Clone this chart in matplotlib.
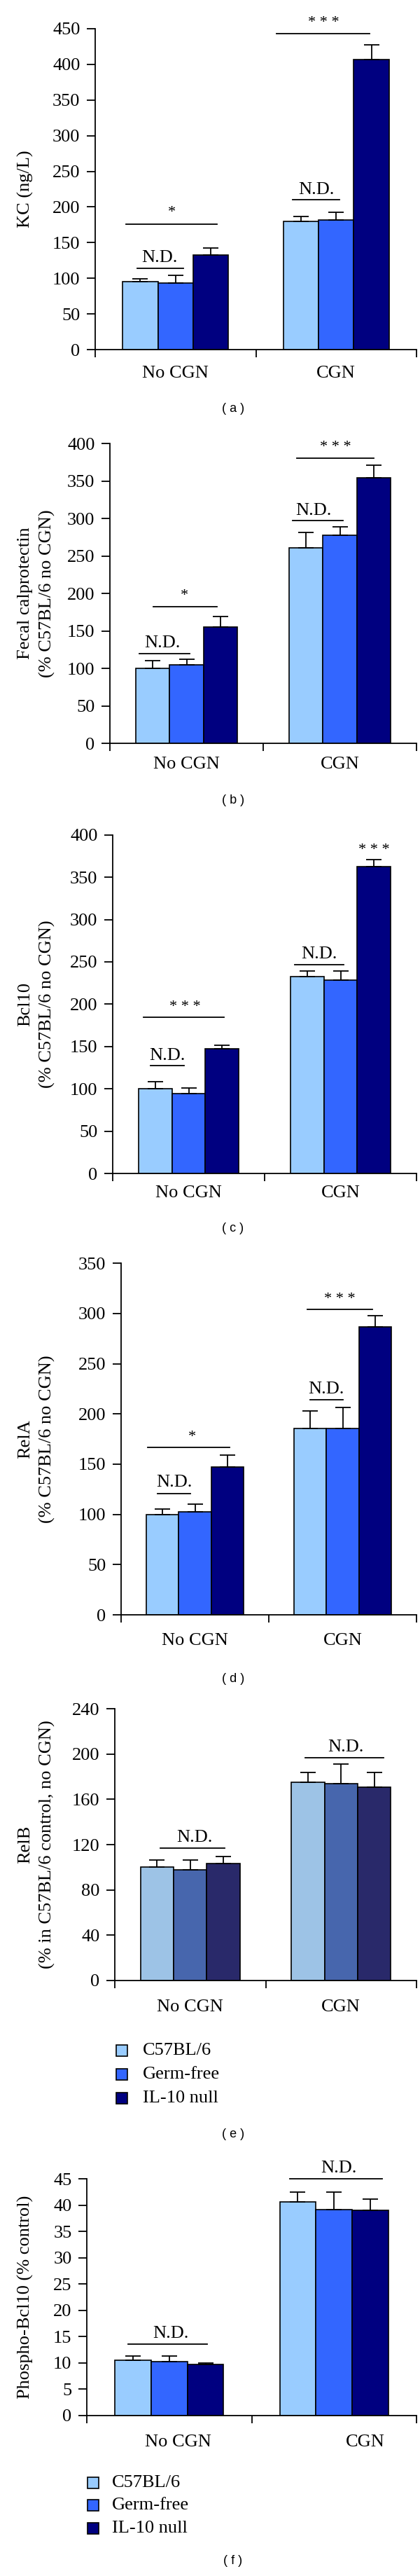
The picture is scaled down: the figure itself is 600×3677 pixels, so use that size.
import matplotlib
matplotlib.use("Agg")
import matplotlib.pyplot as plt
from matplotlib.patches import Rectangle

plt.rcParams['font.family'] = ['Liberation Serif', 'DejaVu Serif']

# ---------------- data ----------------
groups = ["No CGN", "CGN"]
strains = ["C57BL/6", "Germ-free", "IL-10 null"]

kc_mean = [[95.6, 93.7, 132.5], [179.9, 181.9, 406.5]]
kc_err = [[3.5, 10.4, 10.5], [7.0, 10.5, 20.2]]

calpro_mean = [[100.0, 104.7, 155.0], [261.2, 277.5, 354.1]]
calpro_err = [[10.3, 7.8, 14.1], [20.0, 11.9, 17.4]]

bcl10_mean = [[100.0, 94.4, 147.2], [232.8, 228.5, 362.3]]
bcl10_err = [[8.5, 6.3, 4.3], [6.5, 10.8, 8.8]]

rela_mean = [[100.0, 102.9, 147.5], [185.9, 185.9, 286.6]]
rela_err = [[5.6, 7.6, 11.4], [17.2, 20.8, 11.4]]

relb_mean = [[100.2, 97.6, 103.3], [175.3, 173.8, 170.9]]
relb_err = [[6.0, 8.6, 6.0], [8.6, 17.2, 13.0]]

pbcl10_mean = [[10.5, 10.2, 9.7], [40.6, 39.2, 39.0]]
pbcl10_err = [[0.8, 1.1, 0.25], [1.9, 3.3, 2.1]]

ylabels = ["KC (ng/L)",
           "Fecal calprotectin\n(% C57BL/6 no CGN)",
           "Bcl10\n(% C57BL/6 no CGN)",
           "RelA\n(% C57BL/6 no CGN)",
           "RelB\n(% in C57BL/6 control, no CGN)",
           "Phospho-Bcl10 (% control)"]
yticks = [list(range(0, 451, 50)), list(range(0, 401, 50)), list(range(0, 401, 50)),
          list(range(0, 351, 50)), list(range(0, 241, 40)), list(range(0, 46, 5))]
panel_tags = ["( a )", "( b )", "( c )", "( d )", "( e )", "( f )"]

# significance annotations: (x_start, x_end, y_line, label, x_text, y_text)
sig_a = [(0.19, 0.76, 176, "*", 0.475, 183), (0.26, 0.55, 114.6, "N.D.", 0.40, 118),
         (1.23, 1.52, 210, "N.D.", 1.375, 213), (1.13, 1.71, 443, "* * *", 1.42, 449)]
sig_b = [(0.19, 0.52, 120, "N.D.", 0.34, 123), (0.285, 0.70, 182.4, "*", 0.485, 188),
         (1.19, 1.52, 297, "N.D.", 1.33, 300), (1.22, 1.72, 381, "* * *", 1.47, 386)]
sig_c = [(0.205, 0.735, 184.6, "* * *", 0.475, 189), (0.25, 0.47, 127.5, "N.D.", 0.36, 130),
         (1.20, 1.52, 247, "N.D.", 1.36, 250), (None, None, None, "* * *", 1.72, 374)]
sig_d = [(0.18, 0.735, 166.4, "*", 0.48, 170), (0.245, 0.47, 121, "N.D.", 0.36, 124),
         (1.28, 1.50, 214.5, "N.D.", 1.39, 217), (1.26, 1.70, 304, "* * *", 1.48, 308)]
sig_e = [(0.30, 0.73, 117, "N.D.", 0.53, 119.5), (1.26, 1.78, 197, "N.D.", 1.53, 199.5)]
sig_f = [(0.25, 0.73, 13.5, "N.D.", 0.51, 14.1), (1.23, 1.79, 45.0, "N.D.", 1.53, 45.6)]

colors_std = ["#99CCFF", "#3366FF", "#000080"]
colors_e = ["#9DC3E6", "#4766AD", "#29296A"]

# ---------------- layout (pixels) ----------------
W, H = 600, 3677
# left, right, top, bottom of each axes, in pixels
boxes = [(136, 595, 40.7, 499.3), (157, 595, 633.3, 1061), (161, 595, 1191.7, 1675),
         (173, 595, 1803.3, 2305), (164, 595, 2439.3, 2826.7), (124, 595, 3110, 3447.5)]
ylabel_x = [36, 52, 52, 52, 52, 36]
tag_y = [583, 1142, 1754, 2396, 3046, 3655]
xlab_pad = [16, 14, 12, 19, 20, 20]
xlab_pos = [[0.5, 1.5]] * 5 + [[0.555, 1.69]]

means = [kc_mean, calpro_mean, bcl10_mean, rela_mean, relb_mean, pbcl10_mean]
errs = [kc_err, calpro_err, bcl10_err, rela_err, relb_err, pbcl10_err]
sigs = [sig_a, sig_b, sig_c, sig_d, sig_e, sig_f]
pal = [colors_std] * 4 + [colors_e, colors_std]

FS = 19
fig = plt.figure(figsize=(W / 100, H / 100), dpi=100)

bw = 0.22
for i in range(6):
    l, r, t, b = boxes[i]
    ax = fig.add_axes([l / W, 1 - b / H, (r - l) / W, (b - t) / H])
    ymax = yticks[i][-1]
    for g in range(2):
        for s in range(3):
            x = 0.5 + g + (s - 1) * bw
            ax.bar(x, means[i][g][s], width=bw, color=pal[i][s], edgecolor="black",
                   linewidth=1.2, zorder=2)
            ax.errorbar(x, means[i][g][s], yerr=[[0], [errs[i][g][s]]], fmt="none",
                        ecolor="black", elinewidth=1.3, capsize=8, capthick=1.3, zorder=3)
    for (x0, x1, yl, lab, xt, yt) in sigs[i]:
        if x0 is not None:
            ax.plot([x0, x1], [yl, yl], color="black", lw=1.3, clip_on=False, zorder=4)
        ax.text(xt, yt, lab, ha="center", va="bottom", fontsize=FS if lab == "N.D." else 16,
                clip_on=False)
    ax.set_xlim(0, 2)
    ax.set_ylim(0, ymax)
    ax.set_yticks(yticks[i])
    ax.set_yticklabels([str(v) for v in yticks[i]], fontsize=FS)
    ax.set_xticks([0, 1, 2])
    ax.set_xticklabels(["", "", ""])
    ax.set_xticks(xlab_pos[i], minor=True)
    ax.set_xticklabels(groups, minor=True, fontsize=FS)
    ax.tick_params(axis="x", which="minor", length=0, pad=xlab_pad[i])
    ax.tick_params(axis="x", which="major", direction="out", length=8, width=1.3)
    ax.tick_params(axis="y", direction="out", length=8.5, width=1.3, pad=7)
    for sp in ["top", "right"]:
        ax.spines[sp].set_visible(False)
    for sp in ["left", "bottom"]:
        ax.spines[sp].set_linewidth(1.3)
    fig.text(ylabel_x[i] / W, 1 - (t + b) / 2 / H, ylabels[i], rotation=90, ha="center",
             va="center", fontsize=FS, linespacing=1.45, multialignment="center")
    fig.text(333 / W, 1 - tag_y[i] / H, panel_tags[i], ha="center", va="center",
             fontsize=13, family=["Liberation Sans", "DejaVu Sans"])

# legends for panels (e) and (f)
leg_rows = [[2927, 2961, 2995], [3544, 3576, 3609]]
leg_x = [(166, 204), (125, 160)]
sq = 16
for k in range(2):
    for s in range(3):
        cy = leg_rows[k][s]
        x0, xt = leg_x[k]
        fig.patches.append(Rectangle((x0 / W, 1 - (cy + sq / 2) / H), sq / W, sq / H,
                                     transform=fig.transFigure, facecolor=colors_std[s],
                                     edgecolor="black", linewidth=1.2))
        fig.text(xt / W, 1 - cy / H, strains[s], ha="left", va="center", fontsize=FS)

fig.savefig("out.png", dpi=100, facecolor="white")
